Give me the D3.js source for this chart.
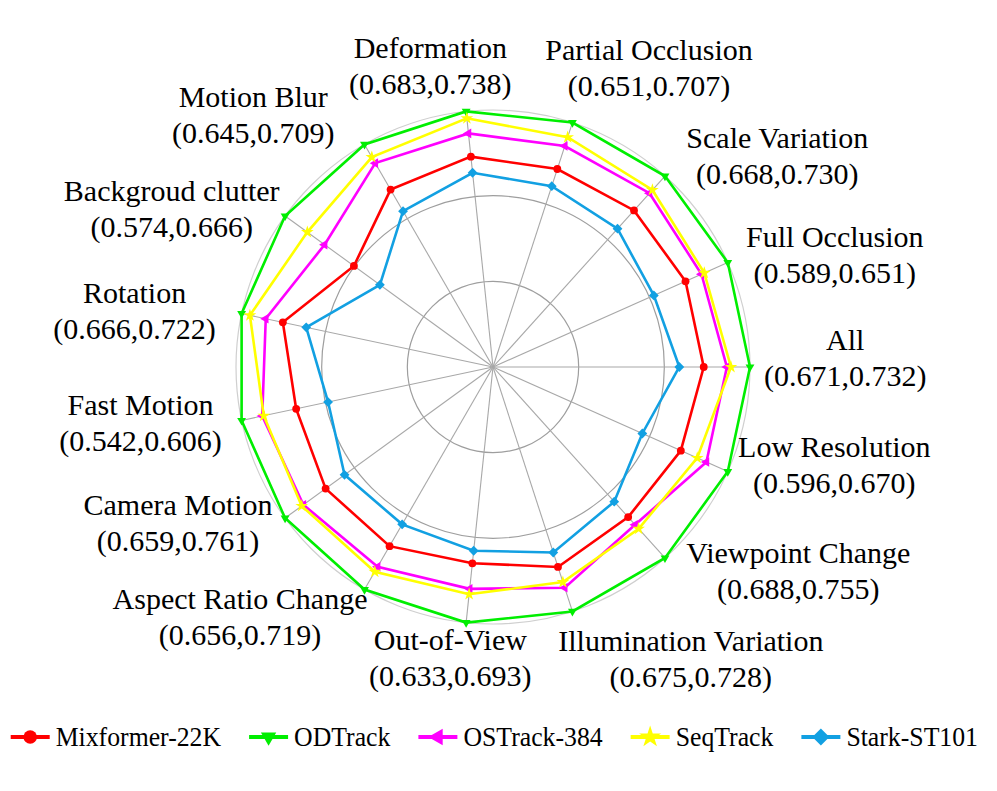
<!DOCTYPE html>
<html>
<head>
<meta charset="utf-8">
<script src="https://cdn.jsdelivr.net/npm/d3@7"></script>
<style>
  body { margin: 0; background: #fff; }
  text { font-family: "Liberation Serif", "Times New Roman", serif; fill: #000; }
</style>
</head>
<body>
<div id="chart"></div>
<script>
// axes, counter-clockwise starting at 3 o'clock
var attributes = ["All", "Full Occlusion", "Scale Variation", "Partial Occlusion", "Deformation",
  "Motion Blur", "Backgroud clutter", "Rotation", "Fast Motion", "Camera Motion",
  "Aspect Ratio Change", "Out-of-View", "Illumination Variation", "Viewpoint Change", "Low Resolution"];
var rangeLow  = [0.671, 0.589, 0.668, 0.651, 0.683, 0.645, 0.574, 0.666, 0.542, 0.659, 0.656, 0.633, 0.675, 0.688, 0.596];
var rangeHigh = [0.732, 0.651, 0.730, 0.707, 0.738, 0.709, 0.666, 0.722, 0.606, 0.761, 0.719, 0.693, 0.728, 0.755, 0.670];

// series values (relative radius, outer ring = 1)
var trackers = ["Mixformer-22K", "ODTrack", "OSTrack-384", "SeqTrack", "Stark-ST101"];
var mixformer = [0.82, 0.82, 0.82, 0.81, 0.823, 0.797, 0.669, 0.836, 0.783, 0.805, 0.805, 0.768, 0.818, 0.786, 0.80];
var odtrack   = [1, 1, 1, 1, 1, 1, 1, 1, 1, 1, 1, 1, 1, 1, 1];
var ostrack   = [0.91, 0.888, 0.91, 0.904, 0.914, 0.916, 0.81, 0.904, 0.918, 0.912, 0.898, 0.868, 0.903, 0.826, 0.909];
var seqtrack  = [0.926, 0.90, 0.927, 0.94, 0.973, 0.943, 0.893, 0.967, 0.912, 0.92, 0.92, 0.889, 0.88, 0.847, 0.87];
var stark     = [0.725, 0.685, 0.724, 0.74, 0.76, 0.70, 0.544, 0.743, 0.656, 0.714, 0.707, 0.719, 0.759, 0.705, 0.636];
var gridLevels = [1 / 3, 2 / 3, 1];

var seriesData = [mixformer, odtrack, ostrack, seqtrack, stark];
var colors = ["#ff0000", "#00ee00", "#ff00ff", "#ffff00", "#12a0e2"];
// marker shape + rotation per series
var shapes = [
  {type: d3.symbolCircle, size: 48, rot: 0},
  {type: d3.symbolTriangle, size: 34, rot: 180},
  {type: d3.symbolTriangle, size: 40, rot: -90},
  {type: d3.symbolStar, size: 50, rot: 0},
  {type: d3.symbolSquare, size: 48, rot: 45}
];
// small hand nudges for the axis labels (excel puts them a bit irregularly)
var labelNudge = [[0, -10], [5, 1], [10, -4], [10, -14], [-18, -3], [-20, -11], [7, 5], [-12, 1],
  [-6, -3], [0, -9], [13, 7], [2, -9], [34, 5], [10, -5], [-3, -17]];

var width = 997, height = 791;
var cx = 493, cy = 367, R = 257;

var svg = d3.select("#chart")
  .append("svg")
    .attr("width", width)
    .attr("height", height);

svg.append("rect").attr("width", width).attr("height", height).attr("fill", "#fff");

var n = attributes.length;
var theta = function(i) { return i * 2 * Math.PI / n; };
var r = d3.scaleLinear().domain([0, 1]).range([0, R]);

var g = svg.append("g").attr("transform", "translate(" + cx + "," + cy + ")");

// rings
g.selectAll(".ring")
  .data(gridLevels)
  .enter().append("circle")
    .attr("r", function(d) { return r(d); })
    .attr("fill", "none")
    .attr("stroke", function(d) { return d === 1 ? "#cfcfcf" : "#9e9e9e"; })
    .attr("stroke-width", 1.2);

// spokes
g.selectAll(".spoke")
  .data(attributes)
  .enter().append("line")
    .attr("x1", 0).attr("y1", 0)
    .attr("x2", function(d, i) { return r(1) * Math.cos(theta(i)); })
    .attr("y2", function(d, i) { return -r(1) * Math.sin(theta(i)); })
    .attr("stroke", "#a8a8a8")
    .attr("stroke-width", 1.1);

// polygons
var radar = d3.lineRadial()
  .angle(function(d, i) { return Math.PI / 2 - theta(i); })
  .radius(function(d) { return r(d); })
  .curve(d3.curveLinearClosed);

seriesData.forEach(function(vals, s) {
  g.append("path")
    .attr("d", radar(vals))
    .attr("fill", "none")
    .attr("stroke", colors[s])
    .attr("stroke-width", 2.6);

  g.selectAll(".m" + s)
    .data(vals)
    .enter().append("path")
      .attr("d", d3.symbol().type(shapes[s].type).size(shapes[s].size))
      .attr("transform", function(d, i) {
        return "translate(" + (r(d) * Math.cos(theta(i))) + "," + (-r(d) * Math.sin(theta(i))) + ") rotate(" + shapes[s].rot + ")";
      })
      .attr("fill", colors[s]);
});

// axis labels
var fmt = d3.format(".3f");
var labelR = 265;
attributes.forEach(function(name, i) {
  var t = theta(i), c = Math.cos(t), sn = Math.sin(t);
  var lab = svg.append("g");
  var l1 = lab.append("text").attr("text-anchor", "middle").style("font-size", "30px").text(name);
  var l2 = lab.append("text").attr("text-anchor", "middle").style("font-size", "30px")
    .text("(" + fmt(rangeLow[i]) + "," + fmt(rangeHigh[i]) + ")");
  var w = Math.max(l1.node().getComputedTextLength(), l2.node().getComputedTextLength());
  var h = 72;
  var px = cx + labelR * c, py = cy - labelR * sn;
  var bx, by;
  if (Math.abs(c) > 0.45) {
    bx = px + Math.sign(c) * (w / 2 + 6);
    by = py - sn * h / 2 * 0.4;
  } else {
    bx = px + c * w;
    by = py - sn * h / 2;
  }
  bx += labelNudge[i][0];
  by += labelNudge[i][1];
  l1.attr("x", bx).attr("y", by - 7);
  l2.attr("x", bx).attr("y", by + 29);
});

// legend
var legY = 737, legGap = 28, xPos = 10.7;
trackers.forEach(function(name, s) {
  var x0 = xPos;
  svg.append("line")
    .attr("x1", x0).attr("x2", x0 + 39)
    .attr("y1", legY).attr("y2", legY)
    .attr("stroke", colors[s]).attr("stroke-width", 4);
  svg.append("path")
    .attr("d", d3.symbol().type(shapes[s].type).size(shapes[s].size * 3))
    .attr("transform", "translate(" + (x0 + 19.5) + "," + legY + ") rotate(" + shapes[s].rot + ")")
    .attr("fill", colors[s]);
  var txt = svg.append("text")
    .attr("transform", "translate(" + (x0 + 45) + "," + (legY + 9) + ") scale(0.92,1)")
    .style("font-size", "28px")
    .text(name);
  xPos = x0 + 45 + txt.node().getComputedTextLength() * 0.92 + legGap;
});
</script>
</body>
</html>
